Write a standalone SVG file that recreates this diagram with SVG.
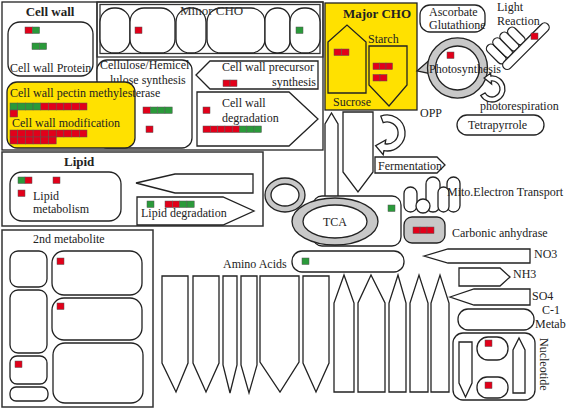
<svg xmlns="http://www.w3.org/2000/svg" width="567" height="410" viewBox="0 0 567 410">
<style>
.b{fill:#fff;stroke:#222;stroke-width:1.3}
.n{fill:none;stroke:#222;stroke-width:1.3}
.y{fill:#ffe100;stroke:#222;stroke-width:1.3}
.g{fill:#c8c8c8;stroke:#222;stroke-width:1.3}
.r{fill:#e2001a;stroke:#555;stroke-width:0.5}
.q{fill:#2a9a3a;stroke:#555;stroke-width:0.5}
text{font-family:"Liberation Serif","Times New Roman",serif;font-size:12px;fill:#222}
.h{font-size:13px;font-weight:bold}
</style>
<rect width="567" height="410" fill="#fff"/>

<g id="cellwall-frame">
<rect class="n" x="2" y="2" width="321" height="148"/>
<path class="n" d="M97,2 V80"/>
<text class="h" x="50" y="16" text-anchor="middle">Cell wall</text>
</g>

<g id="cell-wall-protein">
<rect class="b" x="8" y="22" width="85" height="54" rx="12"/>
<rect class="r" x="25" y="27" width="7.3" height="6.5"/><rect class="q" x="32.3" y="27" width="7.3" height="6.5"/>
<rect class="q" x="32" y="43" width="7.3" height="6.5"/><rect class="q" x="39.3" y="43" width="7.3" height="6.5"/>
<text x="10" y="72">Cell wall Protein</text>
</g>

<g id="minor-cho">
<rect x="97" y="2" width="226" height="55" fill="none" stroke="#333" stroke-width="1.3"/>
<rect x="100" y="4.5" width="220" height="49" fill="none" stroke="#333" stroke-width="1.3"/>
<rect class="b" x="100" y="8" width="30" height="45" rx="14"/>
<rect class="b" x="130" y="8" width="45" height="45" rx="14"/>
<rect class="b" x="176" y="8" width="30" height="45" rx="14"/>
<rect class="b" x="207" y="8" width="58" height="45" rx="14"/>
<rect class="b" x="265" y="8" width="25" height="45" rx="12"/>
<rect class="b" x="290" y="8" width="30" height="45" rx="14"/>
<rect class="r" x="135" y="27" width="7" height="6.5"/>
<rect class="q" x="296" y="27" width="7" height="6.5"/>
<text x="180" y="15" style="font-size:13px;fill:#333">Minor CHO</text>
</g>

<g id="cellulose">
<rect class="b" x="97" y="60" width="95" height="88" rx="10"/>
<text x="100" y="69">Cellulose/Hemicel</text>
<text x="110" y="84">lulose synthesis</text>
<rect class="r" x="143" y="107" width="7.3" height="6.5"/><rect class="q" x="150.3" y="107" width="7.3" height="6.5"/><rect class="q" x="157.6" y="107" width="7.3" height="6.5"/><rect class="q" x="164.9" y="107" width="7.3" height="6.5"/>
<rect class="r" x="146" y="126" width="7" height="6.5"/>
</g>

<g id="pectin-modification">
<rect class="y" x="7" y="82" width="128" height="66" rx="10"/>
<text x="10" y="97">Cell wall pectin methylesterase</text>
<rect class="q" x="10" y="103" width="7.7" height="7"/><rect class="q" x="17.7" y="103" width="7.7" height="7"/><rect class="q" x="25.4" y="103" width="7.7" height="7"/><rect class="q" x="33.1" y="103" width="7.7" height="7"/>
<rect class="r" x="40.8" y="103" width="7.7" height="7"/><rect class="r" x="48.5" y="103" width="7.7" height="7"/><rect class="r" x="56.2" y="103" width="7.7" height="7"/><rect class="r" x="63.9" y="103" width="7.7" height="7"/><rect class="r" x="71.6" y="103" width="7.7" height="7"/><rect class="r" x="79.3" y="103" width="7.7" height="7"/>
<rect class="r" x="10" y="110" width="7.7" height="7"/>
<text x="12" y="127">Cell wall modification</text>
<rect class="r" x="10" y="130" width="7.7" height="7"/><rect class="r" x="17.7" y="130" width="7.7" height="7"/><rect class="r" x="25.4" y="130" width="7.7" height="7"/><rect class="r" x="33.1" y="130" width="7.7" height="7"/><rect class="r" x="40.8" y="130" width="7.7" height="7"/><rect class="r" x="48.5" y="130" width="7.7" height="7"/><rect class="r" x="56.2" y="130" width="7.7" height="7"/><rect class="r" x="63.9" y="130" width="7.7" height="7"/><rect class="r" x="71.6" y="130" width="7.7" height="7"/><rect class="r" x="79.3" y="130" width="7.7" height="7"/>
<rect class="r" x="10" y="137" width="7.7" height="7"/><rect class="r" x="17.7" y="137" width="7.7" height="7"/><rect class="r" x="25.4" y="137" width="7.7" height="7"/><rect class="r" x="33.1" y="137" width="7.7" height="7"/><rect class="r" x="40.8" y="137" width="7.7" height="7"/><rect class="r" x="48.5" y="137" width="7.7" height="7"/>
</g>

<g id="precursor">
<polygon class="b" points="196,75 210,61 318,61 318,89 210,89"/>
<text x="222" y="71">Cell wall precursor</text>
<text x="316" y="86" text-anchor="end">synthesis</text>
<rect class="r" x="223" y="80" width="7" height="6.5"/><rect class="r" x="230" y="80" width="7" height="6.5"/>
</g>

<g id="degradation">
<polygon class="b" points="197,92 289,92 318,119 289,146 197,146"/>
<text x="222" y="107">Cell wall</text>
<text x="222" y="122">degradation</text>
<rect class="r" x="203" y="107" width="7" height="6.5"/>
<rect class="r" x="203" y="126" width="7.3" height="6.5"/><rect class="r" x="210.3" y="126" width="7.3" height="6.5"/><rect class="r" x="217.6" y="126" width="7.3" height="6.5"/><rect class="r" x="224.9" y="126" width="7.3" height="6.5"/><rect class="r" x="232.2" y="126" width="7.3" height="6.5"/><rect class="q" x="239.5" y="126" width="7.3" height="6.5"/><rect class="q" x="246.8" y="126" width="7.3" height="6.5"/><rect class="q" x="254.1" y="126" width="7.3" height="6.5"/>
</g>

<g id="major-cho">
<rect class="y" x="325" y="3" width="92" height="107"/>
<text class="h" x="343" y="18">Major CHO</text>
<polygon class="y" points="328,42 347,25 366,42 366,93 328,93"/>
<rect class="r" x="334" y="49" width="7.5" height="6.5"/><rect class="r" x="341.5" y="49" width="7.5" height="6.5"/>
<text x="333" y="106">Sucrose</text>
<polygon class="y" points="369,46 407,46 407,85 389,106 369,85"/>
<text x="368" y="43">Starch</text>
<rect class="r" x="373" y="63" width="6.5" height="6.5"/><rect class="r" x="379.5" y="63" width="6.5" height="6.5"/><rect class="r" x="386" y="63" width="6.5" height="6.5"/>
<rect class="r" x="373" y="74.5" width="7" height="6.5"/><rect class="r" x="380" y="74.5" width="7" height="6.5"/>
</g>

<g id="ascorbate">
<rect class="b" x="420" y="5" width="65" height="27" rx="10"/>
<text x="429" y="16">Ascorbate</text>
<text x="429" y="29">Glutathione</text>
</g>

<g id="light-reaction">
<text x="497" y="11">Light</text>
<text x="497" y="25">Reaction</text>
<g transform="translate(527,43) rotate(-45)">
<rect class="b" x="-34" y="-26" width="9" height="24" rx="4.5"/>
<rect class="b" x="-25" y="-26" width="9" height="24" rx="4.5"/>
<rect class="b" x="-16" y="-25" width="9" height="23" rx="4.5"/>
<rect class="b" x="-7" y="-23" width="9" height="21" rx="4.5"/>
<rect class="b" x="-34" y="-3" width="62" height="9" rx="4.5"/>
</g>
<rect class="r" x="531" y="33" width="7" height="6.5"/>
</g>

<g id="photosynthesis">
<polygon class="g" points="417,71 433,57 436,75"/>
<path class="g" fill-rule="evenodd" d="M427.5,68 a30,30 0 1,0 60,0 a30,30 0 1,0 -60,0 Z M435.5,68 a22,22 0 1,0 44,0 a22,22 0 1,0 -44,0 Z"/>
<rect class="r" x="447" y="52" width="7" height="6.5"/>
<text x="429" y="73">Photosynthesis</text>
</g>

<g id="photorespiration">
<path class="b" d="M490.9,76.0 A13,13 0 1,1 480.7,95.5 L485.1,93 A8,8 0 1,0 491.3,81.0 L491.6,84.0 L484.1,77.9 L490.6,73.1 Z"/>
<text x="480" y="110">photorespiration</text>
</g>

<g id="tetrapyrrole">
<rect class="b" x="457" y="115" width="87" height="20" rx="10"/>
<text x="468" y="129">Tetrapyrrole</text>
</g>

<g id="connectors">
<polygon class="b" points="325,200 325,124 331.5,113 338,124 338,200"/>
<polygon class="b" points="343,112 373,112 373,172 358,192 343,172"/>
<path class="b" d="M380.8,116.1 A18,18 0 1,1 383.9,150.7 L383.2,154.7 L375.6,145.7 L385.8,139.9 L385.1,143.8 A11,11 0 1,0 383.2,122.7 Z"/>
</g>

<g id="opp">
<text x="420" y="117">OPP</text>
</g>

<g id="fermentation">
<polygon class="b" points="375,157 437,157 445,165 437,173 375,173"/>
<text x="378" y="170">Fermentation</text>
</g>

<g id="small-ring">
<ellipse class="g" cx="285" cy="195" rx="20" ry="17"/>
<ellipse class="b" cx="285" cy="195" rx="14" ry="11"/>
</g>

<g id="tca">
<rect class="b" x="313" y="196" width="88" height="50" rx="9"/>
<rect class="q" x="388" y="205" width="7" height="6.5"/>
<ellipse class="g" cx="335" cy="221.5" rx="43" ry="23.5"/>
<ellipse class="b" cx="335" cy="221.5" rx="32" ry="16.5"/>
<text x="335" y="226" text-anchor="middle">TCA</text>
</g>

<g id="mito">
<rect class="b" x="404" y="187" width="13" height="25" rx="6.5"/>
<rect class="b" x="426" y="177" width="14" height="35" rx="7"/>
<rect class="b" x="447" y="177" width="13" height="35" rx="6.5"/>
<rect class="b" x="438" y="187" width="11" height="25" rx="5.5"/>
<circle class="b" cx="423" cy="206" r="7"/>
<text x="447" y="196">Mito.Electron Transport</text>
</g>

<g id="carbonic">
<rect class="g" x="404" y="217" width="41" height="26" rx="8"/>
<rect class="r" x="413" y="227" width="7" height="6.5"/><rect class="r" x="420" y="227" width="7" height="6.5"/><rect class="r" x="427" y="227" width="7" height="6.5"/>
<text x="452" y="237">Carbonic anhydrase</text>
</g>

<g id="amino-acids">
<rect class="b" x="292" y="251" width="112" height="21" rx="10"/>
<rect class="q" x="302" y="258" width="7" height="6.5"/>
<text x="223" y="268">Amino Acids</text>
<polygon class="b" points="162,276 188,276 188,363 176,392 162,363"/>
<polygon class="b" points="193,276 219,276 219,363 206,392 193,363"/>
<polygon class="b" points="223,276 237,276 237,365 230,393 223,365"/>
<polygon class="b" points="241,276 257,276 257,365 249,393 241,365"/>
<polygon class="b" points="260,276 299,276 299,362 280,392 260,362"/>
<polygon class="b" points="303,276 329,276 329,363 316,392 303,363"/>
<polygon class="b" points="334,392 334,303 344,275 354,303 354,392"/>
<polygon class="b" points="358,392 358,303 371,275 385,303 385,392"/>
<polygon class="b" points="389,392 389,303 398,275 406,303 406,392"/>
<polygon class="b" points="410,392 410,303 419,275 428,303 428,392"/>
<polygon class="b" points="431,392 431,303 440,275 449,303 449,392"/>
</g>

<g id="no3">
<polygon class="b" points="424,256 448,249 530,249 530,263 448,263"/>
<text x="534" y="258">NO3</text>
</g>
<g id="nh3">
<polygon class="b" points="459,268 500,268 510,277 500,286 459,286"/>
<text x="513" y="278">NH3</text>
</g>
<g id="so4">
<polygon class="b" points="450,297 474,289 530,289 530,305 474,305"/>
<text x="532" y="300">SO4</text>
</g>
<g id="c1">
<rect class="b" x="458" y="309" width="76" height="21" rx="10"/>
<text x="542" y="314">C-1</text>
<text x="535" y="328">Metab</text>
</g>

<g id="nucleotide">
<rect class="b" x="453" y="333" width="82" height="67" rx="10"/>
<polygon class="b" points="459,342 472,342 472,383 465.5,397 459,383"/>
<rect class="b" x="477" y="337" width="31" height="23" rx="11"/>
<rect class="b" x="477" y="377" width="31" height="21" rx="10"/>
<rect class="r" x="485" y="340" width="7" height="6.5"/>
<rect class="r" x="485" y="382" width="7" height="6.5"/>
<polygon class="b" points="513,393 513,350 519,338 525,350 525,393"/>
<text transform="translate(540,338) rotate(90)">Nucleotide</text>
</g>

<g id="lipid">
<rect x="2" y="152" width="261" height="74" fill="none" stroke="#333" stroke-width="1.5"/>
<text class="h" x="64" y="166">Lipid</text>
<rect class="b" x="10" y="172" width="111" height="49" rx="12"/>
<rect class="q" x="18" y="177" width="7" height="6.5"/><rect class="r" x="25" y="177" width="7" height="6.5"/>
<rect class="r" x="53" y="177" width="7" height="6.5"/>
<rect class="r" x="18" y="190" width="7" height="6.5"/>
<text x="33" y="200">Lipid</text>
<text x="33" y="213">metabolism</text>
<polygon class="b" points="136,183 175,174 253,174 253,193 175,193"/>
<polygon class="b" points="137,197 223,197 254,211 223,225 137,225"/>
<rect class="q" x="147" y="201" width="7" height="6.5"/>
<rect class="r" x="165" y="201" width="7.3" height="6.5"/><rect class="r" x="172.3" y="201" width="7.3" height="6.5"/><rect class="q" x="179.6" y="201" width="7.3" height="6.5"/><rect class="q" x="186.9" y="201" width="7.3" height="6.5"/>
<text x="141" y="217">Lipid degradation</text>
</g>

<g id="second-metabolite">
<rect x="2" y="230" width="151" height="177" fill="none" stroke="#333" stroke-width="1.5"/>
<text x="33" y="243">2nd metabolite</text>
<rect class="b" x="10" y="251" width="37" height="36" rx="8"/>
<rect class="b" x="52" y="251" width="90" height="44" rx="12"/>
<rect class="b" x="10" y="290" width="37" height="63" rx="8"/>
<rect class="b" x="52" y="298" width="90" height="42" rx="12"/>
<rect class="b" x="10" y="356" width="37" height="28" rx="7"/>
<rect class="b" x="10" y="387" width="38" height="14" rx="6"/>
<rect class="b" x="53" y="343" width="90" height="60" rx="12"/>
<rect class="r" x="57" y="258" width="7" height="6.5"/>
<rect class="r" x="57" y="303" width="7" height="6.5"/>
<rect class="r" x="15" y="361" width="7" height="6.5"/>
</g>
</svg>
